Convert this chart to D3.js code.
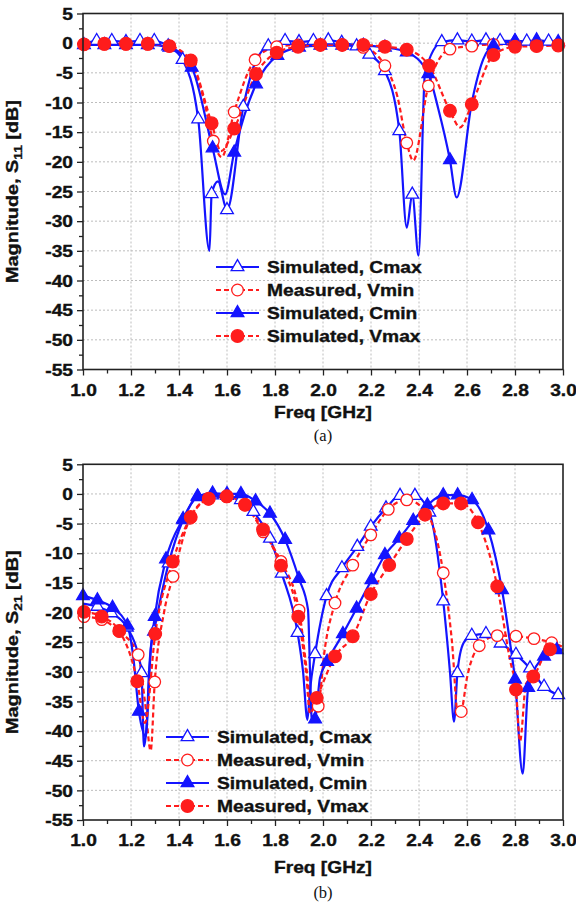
<!DOCTYPE html>
<html><head><meta charset="utf-8">
<script src="https://cdn.jsdelivr.net/npm/d3@7"></script>
<style>body{margin:0;background:#fff}</style>
</head><body>
<svg id="c" width="576" height="906" xmlns="http://www.w3.org/2000/svg"></svg>
<script>
// ---------- tick labels ----------
const freqTicks = [1.0,1.2,1.4,1.6,1.8,2.0,2.2,2.4,2.6,2.8,3.0];
const freqMinor = [1.1,1.3,1.5,1.7,1.9,2.1,2.3,2.5,2.7,2.9];
const dbTicks = [5,0,-5,-10,-15,-20,-25,-30,-35,-40,-45,-50,-55];
const dbMinor = [2.5,-2.5,-7.5,-12.5,-17.5,-22.5,-27.5,-32.5,-37.5,-42.5,-47.5,-52.5];
const legendA = ["Simulated, Cmax","Measured, Vmin","Simulated, Cmin","Simulated, Vmax"];
const legendB = ["Simulated, Cmax","Measured, Vmin","Simulated, Cmin","Measured, Vmax"];

// ---------- series: [freq GHz, dB, marker?] ----------
// (a) S11
const s11Cmax = [[1.0,-0.2,0],[1.057,0.4,1],[1.12,0.4,1],[1.179,0.2,1],[1.2375,0.4,1],[1.297,0.4,1],[1.355,-0.5,1],[1.415,-2.8,1],[1.48,-12.8,1],[1.527,-35,0],[1.536,-25.4,1],[1.5625,-23.3,0],[1.6,-28.1,1],[1.668,-10.7,1],[1.717,-3.3,0],[1.772,-0.5,1],[1.842,0.4,1],[1.9,0.2,1],[1.96,0.4,1],[2.022,0.5,1],[2.078,0.1,1],[2.14,-0.5,1],[2.193,-1.9,1],[2.258,-4.7,1],[2.318,-14.8,1],[2.349,-31.1,0],[2.372,-25.5,1],[2.398,-35.8,0],[2.425,-5.0,0],[2.495,0.2,1],[2.56,0.5,1],[2.62,0.3,1],[2.679,0.5,1],[2.738,0.4,1],[2.8,0.4,1],[2.849,0.3,1],[2.89,0.5,1],[2.94,0.3,1],[3.0,0.2,0]];
const s11Vmin = [[1.004,-0.2,1],[1.089,-0.2,1],[1.179,-0.2,1],[1.27,-0.2,1],[1.36,-0.5,1],[1.449,-3.3,1],[1.5,-9.0,0],[1.543,-16.5,1],[1.578,-19.2,0],[1.63,-11.6,1],[1.717,-2.8,1],[1.807,-0.6,1],[1.897,-0.3,1],[1.989,-0.3,1],[2.08,-0.3,1],[2.168,-0.7,1],[2.258,-3.8,1],[2.31,-9.0,0],[2.349,-16.8,1],[2.376,-19.8,0],[2.439,-7.2,1],[2.529,-1.0,1],[2.62,-0.5,1],[2.71,-0.2,1],[2.8,-0.2,1],[2.89,-0.2,1],[2.98,-0.2,1],[3.0,-0.2,0]];
const s11Cmin = [[1.004,-0.3,1],[1.089,-0.3,1],[1.179,-0.3,1],[1.27,-0.3,1],[1.36,-0.7,1],[1.453,-4.1,1],[1.54,-17.7,1],[1.592,-25.5,0],[1.63,-18.4,1],[1.721,-6.9,1],[1.81,-2.1,1],[1.9,-0.7,1],[1.989,-0.4,1],[2.08,-0.4,1],[2.168,-0.4,1],[2.258,-0.7,1],[2.349,-1.5,1],[2.439,-5.2,1],[2.48,-11.0,0],[2.529,-19.7,1],[2.557,-26.0,0],[2.62,-10.0,0],[2.668,-2.7,0],[2.71,-0.4,1],[2.8,0.3,1],[2.89,0.3,1],[2.98,0.2,1],[3.0,0.2,0]];
const s11Vmax = [[1.004,-0.2,1],[1.089,-0.1,1],[1.179,-0.1,1],[1.27,-0.1,1],[1.36,-0.5,1],[1.449,-2.9,1],[1.536,-13.5,1],[1.575,-18.2,0],[1.63,-14.4,1],[1.721,-5.2,1],[1.807,-1.6,1],[1.896,-0.6,1],[1.989,-0.3,1],[2.08,-0.3,1],[2.168,-0.3,1],[2.258,-0.6,1],[2.349,-1.1,1],[2.442,-3.8,1],[2.529,-11.4,1],[2.571,-14.2,0],[2.62,-10.3,1],[2.71,-2.0,1],[2.8,-0.6,1],[2.89,-0.5,1],[2.98,-0.4,1],[3.0,-0.4,0]];

// (b) S21
const s21Cmax = [[1.0,-18.5,0],[1.06,-19.0,1],[1.118,-20.1,1],[1.183,-22.5,1],[1.229,-27,0],[1.244,-30.2,1],[1.254,-42.6,0],[1.267,-38,0],[1.283,-26,0],[1.296,-23.2,1],[1.357,-11.7,1],[1.417,-4.4,1],[1.479,-0.5,1],[1.5375,-0.2,1],[1.6,-0.3,1],[1.658,-1.0,1],[1.71,-3.0,1],[1.779,-7.5,1],[1.828,-13.4,1],[1.894,-23.4,1],[1.917,-30,0],[1.935,-38.1,0],[1.946,-33,0],[1.967,-27,1],[2.015,-17.2,1],[2.079,-12.5,1],[2.143,-8.9,1],[2.199,-5.5,1],[2.2625,-2.4,1],[2.321,-0.3,1],[2.383,-0.3,1],[2.443,-3.1,1],[2.501,-18.1,1],[2.529,-30,0],[2.546,-38.4,0],[2.56,-30.2,1],[2.585,-25.2,0],[2.62,-23.9,1],[2.679,-23.6,1],[2.74,-25.2,1],[2.804,-27.1,1],[2.8625,-29.4,1],[2.921,-32.5,1],[2.98,-33.9,1],[3.0,-34.2,0]];
const s21Vmin = [[1.004,-20.7,1],[1.078,-21.2,1],[1.151,-23.2,1],[1.23,-27.1,1],[1.258,-35,0],[1.282,-43.3,0],[1.299,-31.7,1],[1.3375,-20,0],[1.375,-13.9,1],[1.446,-4.1,1],[1.522,-0.9,1],[1.599,-0.5,1],[1.675,-1.9,1],[1.751,-6.4,1],[1.825,-11.4,1],[1.9,-19.6,1],[1.933,-30,0],[1.954,-37.5,0],[1.98,-35.8,1],[2.008,-26,0],[2.05,-18.4,1],[2.124,-12.0,1],[2.199,-6.9,1],[2.272,-2.6,1],[2.349,-1.0,1],[2.425,-2.8,0],[2.501,-13.3,1],[2.5375,-25,0],[2.5625,-37.2,0],[2.576,-36.7,1],[2.6,-31,0],[2.651,-25.6,1],[2.726,-23.9,1],[2.804,-24.0,1],[2.879,-24.4,1],[2.953,-25.1,1],[3.0,-25.8,0]];
const s21Cmin = [[1.0,-17.2,1],[1.06,-17.9,1],[1.123,-19.2,1],[1.185,-22.2,1],[1.208,-27,0],[1.233,-36.7,1],[1.2625,-40.9,0],[1.275,-30,0],[1.299,-20.7,1],[1.346,-11.0,1],[1.417,-4.2,1],[1.477,-0.4,1],[1.54,0.1,1],[1.6,0.0,1],[1.658,0.0,1],[1.719,-1.2,1],[1.779,-3.3,1],[1.842,-7.7,1],[1.9,-14.3,1],[1.9375,-19.5,0],[1.946,-30,0],[1.954,-38.5,0],[1.967,-38.0,1],[1.9875,-31,0],[2.017,-28.3,1],[2.083,-23.6,1],[2.14,-19.3,1],[2.202,-14.5,1],[2.258,-10.3,1],[2.318,-7.5,1],[2.376,-4.5,1],[2.435,-1.9,1],[2.501,-0.2,1],[2.561,-0.2,1],[2.621,-1.0,1],[2.689,-6.1,1],[2.746,-16.2,1],[2.779,-25,0],[2.8,-31.3,1],[2.832,-47.2,0],[2.855,-32.7,1],[2.921,-27.4,1],[2.974,-26.3,1],[3.0,-26.2,0]];
const s21Vmax = [[1.004,-19.9,1],[1.078,-20.7,1],[1.151,-23.1,1],[1.226,-31.6,1],[1.258,-38.6,0],[1.301,-23.6,1],[1.374,-11.4,1],[1.449,-3.9,1],[1.524,-0.8,1],[1.599,-0.4,1],[1.675,-1.8,1],[1.75,-6.0,1],[1.825,-12.1,1],[1.897,-20.7,1],[1.929,-30,0],[1.946,-37,0],[1.974,-34.4,1],[2.05,-27.4,1],[2.124,-24.0,1],[2.199,-16.9,1],[2.276,-12.0,1],[2.349,-7.6,1],[2.425,-3.5,1],[2.501,-1.6,1],[2.575,-1.6,1],[2.646,-4.8,1],[2.726,-15.6,1],[2.779,-28,0],[2.804,-33.0,1],[2.821,-41.7,0],[2.846,-32,0],[2.876,-30.8,1],[2.946,-26.2,1],[3.0,-26.3,0]];

// ---------- styles ----------
const BLUE = "#1414ff", RED = "#ff1c1c";
const styles = [
  {color: BLUE, dash: null, shape: "tri", filled: false},
  {color: RED, dash: "5,3", shape: "circ", filled: false},
  {color: BLUE, dash: null, shape: "tri", filled: true},
  {color: RED, dash: "5,3", shape: "circ", filled: true}
];
const FONT = "'Liberation Sans', Arial, Helvetica, sans-serif";
const SX = 1.2;
const INK = "#111";

const svg = d3.select("#c");

function boldText(sel, size) {
  return sel.attr("font-family", FONT).attr("font-weight", "bold").attr("font-size", size)
    .attr("fill", INK).attr("stroke", INK).attr("stroke-width", 0.35);
}

function drawMarker(g, px, py, st) {
  if (st.shape === "tri") {
    g.append("path").attr("d", d3.symbol(d3.symbolTriangle, 70)())
      .attr("transform", `translate(${px},${py})`)
      .attr("fill", st.filled ? st.color : "#fff")
      .attr("stroke", st.color).attr("stroke-width", 1.3);
  } else {
    g.append("circle").attr("cx", px).attr("cy", py).attr("r", st.filled ? 6.3 : 5.8)
      .attr("fill", st.filled ? st.color : "#fff")
      .attr("stroke", st.color).attr("stroke-width", 1.3);
  }
}

function panel(opt) {
  const g = svg.append("g");
  const x = d3.scaleLinear().domain([1, 3]).range([83, 563]);
  const y = d3.scaleLinear().domain([-55, 5]).range([opt.bottom, opt.top]);

  // grid
  g.append("g").selectAll("line").data(freqTicks.filter(f => f > 1 && f < 3)).join("line")
    .attr("x1", d => x(d)).attr("x2", d => x(d)).attr("y1", y(5)).attr("y2", y(-55))
    .attr("stroke", "#bdbdbd").attr("stroke-width", 1).attr("stroke-dasharray", "2,2");
  g.append("g").selectAll("line").data(dbTicks.filter(v => v < 5 && v > -55)).join("line")
    .attr("x1", x(1)).attr("x2", x(3)).attr("y1", d => y(d)).attr("y2", d => y(d))
    .attr("stroke", "#bdbdbd").attr("stroke-width", 1).attr("stroke-dasharray", "2,2");

  // axes
  const xa = g.append("g").attr("transform", `translate(0,${opt.bottom})`)
    .call(d3.axisBottom(x).tickValues(freqTicks).tickSize(6).tickFormat(d3.format(".1f")));
  g.append("g").attr("transform", `translate(0,${opt.bottom})`)
    .call(d3.axisBottom(x).tickValues(freqMinor).tickSize(4).tickFormat(""));
  const ya = g.append("g").attr("transform", `translate(83,0)`)
    .call(d3.axisLeft(y).tickValues(dbTicks).tickSize(6).tickFormat(d => String(d)));
  g.append("g").attr("transform", `translate(83,0)`)
    .call(d3.axisLeft(y).tickValues(dbMinor).tickSize(4).tickFormat(""));
  g.selectAll(".domain").remove();
  g.selectAll(".tick line").attr("stroke", "#222").attr("stroke-width", 1.3);
  boldText(xa.selectAll(".tick text"), 16).attr("y", 26.5).attr("dy", 0)
    .attr("transform", `scale(${SX},1)`);
  boldText(ya.selectAll(".tick text"), 16).attr("x", -10 / SX).attr("dy", "0.36em")
    .attr("transform", `scale(${SX},1)`);

  // series
  const line = d3.line().x(d => x(d[0])).y(d => y(d[1])).curve(d3.curveMonotoneX);
  opt.series.forEach((s, i) => {
    const st = styles[i];
    g.append("path").datum(s).attr("d", line).attr("fill", "none")
      .attr("stroke", st.color).attr("stroke-width", 2.2)
      .attr("stroke-dasharray", st.dash);
  });
  opt.series.forEach((s, i) => {
    const mg = g.append("g");
    s.filter(d => d[2]).forEach(d => drawMarker(mg, x(d[0]), y(d[1]), styles[i]));
  });

  // frame
  g.append("rect").attr("x", x(1)).attr("y", y(5)).attr("width", x(3) - x(1)).attr("height", y(-55) - y(5))
    .attr("fill", "none").attr("stroke", "#222").attr("stroke-width", 1.6);

  // legend
  opt.legend.forEach((lab, i) => {
    const ly = opt.legY + i * 23;
    const st = styles[i];
    g.append("line").attr("x1", opt.legX).attr("x2", opt.legX + 43).attr("y1", ly).attr("y2", ly)
      .attr("stroke", st.color).attr("stroke-width", 2.2).attr("stroke-dasharray", st.dash);
    drawMarker(g, opt.legX + 21.5, ly, st);
    boldText(g.append("text"), 16)
      .attr("transform", `translate(${opt.legX + 51},${ly}) scale(${SX},1)`)
      .attr("dy", "0.36em").text(lab);
  });

  // axis titles
  boldText(g.append("text"), 16)
    .attr("transform", `translate(${x(2)},${opt.bottom + opt.fqOff}) scale(${SX},1)`)
    .attr("text-anchor", "middle").text("Freq [GHz]");
  const yt = boldText(g.append("text"), 16.5)
    .attr("transform", `translate(17.5,${(opt.top + opt.bottom) / 2}) rotate(-90) scale(${SX},1)`)
    .attr("text-anchor", "middle");
  yt.append("tspan").text("Magnitude, S");
  yt.append("tspan").attr("font-size", 11.5).attr("dy", 4).text(opt.sub);
  yt.append("tspan").attr("dy", -4).text(" [dB]");

  g.append("text").attr("x", x(2)).attr("y", opt.bottom + opt.tagOff).attr("text-anchor", "middle")
    .attr("font-family", "'Liberation Serif', 'Times New Roman', serif").attr("font-size", 16.5)
    .attr("fill", INK).text(opt.tag);
}

panel({top: 13.5, bottom: 369.5, series: [s11Cmax, s11Vmin, s11Cmin, s11Vmax],
  legend: legendA, legX: 216, legY: 267, sub: "11", tag: "(a)", fqOff: 48, tagOff: 71});
panel({top: 464.3, bottom: 820, series: [s21Cmax, s21Vmin, s21Cmin, s21Vmax],
  legend: legendB, legX: 166, legY: 737, sub: "21", tag: "(b)", fqOff: 53, tagOff: 78});
</script>
</body></html>
